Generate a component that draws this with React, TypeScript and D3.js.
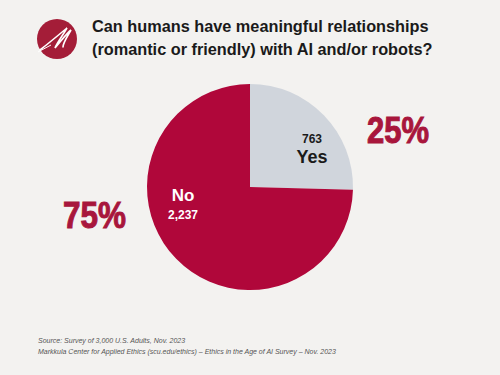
import React from "react";
import * as d3 from "d3";

const width = 500;
const height = 375;

// survey answers
const answers = ["Yes", "No"];
const counts = [763, 2237];
const percents = ["25%", "75%"];
const sliceColors = ["#d0d5dc", "#b0073a"];

const titleLines = [
  "Can humans have meaningful relationships",
  "(romantic or friendly) with AI and/or robots?",
];
const footerLines = [
  "Source: Survey of 3,000 U.S. Adults, Nov. 2023",
  "Markkula Center for Applied Ethics  (scu.edu/ethics) \u2013  Ethics in the Age of AI Survey \u2013 Nov. 2023",
];

const cx = 250;
const cy = 187;
const radius = 103;

const pie = d3
  .pie<number>()
  .sort(null)
  .value((d) => d);

const arcGen = d3
  .arc<d3.PieArcDatum<number>>()
  .innerRadius(0)
  .outerRadius(radius);

const fmt = d3.format(",");

const App = () => {
  const slices = pie(counts);
  const font = "'Liberation Sans', Arial, sans-serif";

  return (
    <svg
      width={width}
      height={height}
      style={{ position: "absolute", left: 0, top: 0, background: "#f3f2f0" }}
    >
      <rect width={width} height={height} fill="#f3f2f0" />

      {/* logo */}
      <g transform="translate(57,39)">
        <circle r={20} fill="#a41d38" />
        <path
          d="M-17,11 C-8,4 4,-6 10,-11 C6,-4 0,4 -2,9 C4,2 10,-6 14,-9 C10,-2 6,4 6,8"
          fill="none"
          stroke="#fff"
          strokeWidth={1.6}
          strokeLinecap="round"
        />
        <path d="M-19,13 L-6,6" stroke="#fff" strokeWidth={1} />
      </g>

      {/* title */}
      {titleLines.map((t, i) => (
        <text
          key={t}
          x={92}
          y={32 + i * 23}
          fontFamily={font}
          fontWeight="bold"
          fontSize={16.3}
          fill="#1a1a1a"
        >
          {t}
        </text>
      ))}

      {/* pie */}
      <g transform={`translate(${cx},${cy})`}>
        {slices.map((s, i) => (
          <path key={answers[i]} d={arcGen(s) ?? ""} fill={sliceColors[i]} />
        ))}
      </g>

      {/* slice labels */}
      <text x={312} y={143} textAnchor="middle" fontFamily={font} fontWeight="bold" fontSize={12} fill="#1a1a1a">
        {fmt(counts[0])}
      </text>
      <text x={312} y={163} textAnchor="middle" fontFamily={font} fontWeight="bold" fontSize={18} fill="#1a1a1a">
        {answers[0]}
      </text>
      <text x={183} y={201} textAnchor="middle" fontFamily={font} fontWeight="bold" fontSize={17} fill="#fff">
        {answers[1]}
      </text>
      <text x={183} y={219} textAnchor="middle" fontFamily={font} fontWeight="bold" fontSize={12} fill="#fff">
        {fmt(counts[1])}
      </text>

      {/* big percents */}
      <text
        x={367}
        y={143}
        fontFamily={font}
        fontWeight="bold"
        fontSize={36}
        fill="#a8163c"
        stroke="#a8163c"
        strokeWidth={1}
        textLength={62}
        lengthAdjust="spacingAndGlyphs"
      >
        {percents[0]}
      </text>
      <text
        x={63}
        y={228}
        fontFamily={font}
        fontWeight="bold"
        fontSize={36}
        fill="#a8163c"
        stroke="#a8163c"
        strokeWidth={1}
        textLength={63}
        lengthAdjust="spacingAndGlyphs"
      >
        {percents[1]}
      </text>

      {/* footer */}
      {footerLines.map((t, i) => (
        <text
          key={t}
          x={38}
          y={343 + i * 10.5}
          fontFamily={font}
          fontStyle="italic"
          fontSize={7}
          fill="#555"
        >
          {t}
        </text>
      ))}
    </svg>
  );
};

export default App;
